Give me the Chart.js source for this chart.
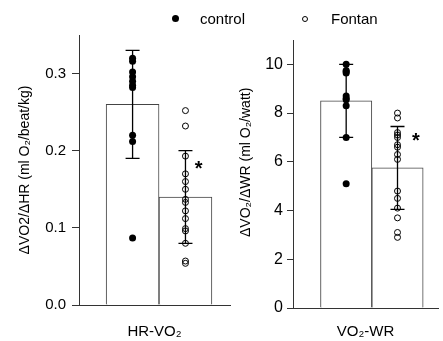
<!DOCTYPE html>
<html>
<head>
<meta charset="utf-8">
<script src="https://cdn.jsdelivr.net/npm/chart.js@4.4.1/dist/chart.umd.min.js"></script>
<style>
  body { margin: 0; background: #fff; }
  #wrap { position: relative; width: 443px; height: 341px; overflow: hidden;
          font-family: 'Liberation Sans', Arial, sans-serif; }
  canvas { position: absolute; top: 0; }
  .leg { position: absolute; top: 10px; font-size: 15px; line-height: 18px; color: #000; }
  .dot { position: absolute; border-radius: 50%; box-sizing: border-box; }
</style>
</head>
<body>
<div id="wrap">
  <canvas id="hrChart" width="240" height="341" style="left:0"></canvas>
  <canvas id="wrChart" width="223" height="341" style="left:220px"></canvas>
  <div class="dot" style="left:172px;top:15px;width:7px;height:7px;background:#000"></div>
  <div class="leg" style="left:200px">control</div>
  <div class="dot" style="left:302px;top:16px;width:6px;height:6px;border:1px solid #000"></div>
  <div class="leg" style="left:331px">Fontan</div>
</div>
<script>
Chart.defaults.font.family = "'Liberation Sans', Arial, sans-serif";
Chart.defaults.color = '#000';

// groups: control at x=1, Fontan at x=2
const groups = ['control', 'Fontan'];

// left panel: HR-VO2
const hrLabel = 'HR-VO₂';
const hrMeans = [0.26, 0.14];
const hrSD = [0.07, 0.06];
const hrControl = [0.320, 0.316, 0.302, 0.296, 0.290, 0.285, 0.282, 0.220, 0.212, 0.087];
const hrFontan = [0.252, 0.232, 0.193, 0.170, 0.160, 0.150, 0.137, 0.133, 0.122, 0.112, 0.099, 0.096, 0.080, 0.057, 0.054];
const hrTicks = [0.0, 0.1, 0.2, 0.3];

// right panel: VO2-WR
const wrLabel = 'VO₂-WR';
const wrMeans = [8.5, 5.75];
const wrSD = [1.5, 1.7];
const wrControl = [10.0, 9.75, 9.7, 9.65, 8.7, 8.6, 8.55, 8.3, 7.0, 5.1];
const wrFontan = [8.0, 7.8, 7.2, 7.1, 7.0, 6.7, 6.6, 6.3, 6.1, 4.8, 4.5, 4.1, 3.7, 3.1, 2.9];
const wrTicks = [0, 2, 4, 6, 8, 10];

const errorBars = {
  id: 'errorBars',
  afterDatasetsDraw(chart, args, opts) {
    const { ctx, scales: { x, y } } = chart;
    ctx.save();
    ctx.strokeStyle = '#000';
    ctx.lineWidth = 1.3;
    opts.means.forEach((m, i) => {
      const px = x.getPixelForValue(i + 1);
      const top = y.getPixelForValue(m + opts.sd[i]);
      const bot = y.getPixelForValue(m - opts.sd[i]);
      ctx.beginPath();
      ctx.moveTo(px, top); ctx.lineTo(px, bot);
      ctx.moveTo(px - 7, top); ctx.lineTo(px + 7, top);
      ctx.moveTo(px - 7, bot); ctx.lineTo(px + 7, bot);
      ctx.stroke();
    });
    // significance mark
    ctx.fillStyle = '#000';
    ctx.font = "bold 20px 'Liberation Sans', Arial, sans-serif";
    ctx.textAlign = 'center';
    ctx.textBaseline = 'middle';
    ctx.fillText('*', x.getPixelForValue(opts.star[0]), y.getPixelForValue(opts.star[1]));
    ctx.restore();
  }
};

function makePanel(id, p) {
  return new Chart(document.getElementById(id), {
    type: 'bar',
    data: {
      datasets: [
        {
          type: 'scatter',
          label: groups[0],
          data: p.control.map(v => ({ x: 1, y: v })),
          pointStyle: 'circle',
          pointRadius: 3.5,
          backgroundColor: '#000',
          borderColor: '#000',
          borderWidth: 0
        },
        {
          type: 'scatter',
          label: groups[1],
          data: p.fontan.map(v => ({ x: 2, y: v })),
          pointStyle: 'circle',
          pointRadius: 3,
          backgroundColor: 'rgba(0,0,0,0)',
          borderColor: '#000',
          borderWidth: 1
        },
        {
          label: 'mean',
          data: p.means.map((m, i) => ({ x: i + 1, y: m })),
          backgroundColor: '#fff',
          borderColor: '#444',
          borderWidth: 1,
          barPercentage: 1,
          categoryPercentage: 1
        }
      ]
    },
    options: {
      responsive: false,
      animation: false,
      devicePixelRatio: 1,
      layout: { padding: p.pad },
      plugins: {
        legend: { display: false },
        tooltip: { enabled: false },
        errorBars: { means: p.means, sd: p.sd, star: p.star }
      },
      scales: {
        x: {
          type: 'linear',
          min: p.xMin, max: p.xMax,
          offset: false,
          grid: { display: false, offset: false },
          border: { display: true, color: '#333', width: 1 },
          ticks: { display: false },
          title: { display: true, text: p.label, font: { size: 15 }, padding: { top: 0, bottom: 0 } },
          afterFit: s => { s.height = p.xHeight; }
        },
        y: {
          min: 0, max: p.yMax,
          grid: { drawOnChartArea: false, drawTicks: true, tickLength: p.tickLen, color: '#333' },
          border: { display: true, color: '#333', width: 1 },
          afterBuildTicks: s => { s.ticks = p.ticks.map(v => ({ value: v })); },
          ticks: { font: { size: p.tickSize }, padding: p.tickPad, callback: v => p.fmt(v) },
          title: { display: true, text: p.yTitle, font: { size: 14 }, padding: { top: p.titlePad, bottom: 0 } },
          afterFit: s => { s.width = p.yWidth; }
        }
      }
    },
    plugins: [errorBars]
  });
}

makePanel('hrChart', {
  label: hrLabel, means: hrMeans, sd: hrSD, control: hrControl, fontan: hrFontan, ticks: hrTicks,
  yTitle: 'ΔVO2/ΔHR (ml O₂/beat/kg)', yMax: 0.35, fmt: v => v.toFixed(1),
  xMin: -0.013, xMax: 2.842, star: [2.25, 0.176],
  pad: { top: 35, right: 10, bottom: 0, left: 0 },
  xHeight: 36, yWidth: 79, tickLen: 7, tickPad: 6, titlePad: 17, tickSize: 15
});

makePanel('wrChart', {
  label: wrLabel, means: wrMeans, sd: wrSD, control: wrControl, fontan: wrFontan, ticks: wrTicks,
  yTitle: '\u00a0\u00a0\u00a0\u00a0\u00a0\u00a0ΔVO₂/ΔWR (ml O₂/watt)', yMax: 11, fmt: v => String(v),
  xMin: -0.036, xMax: 2.789, star: [2.36, 6.85],
  pad: { top: 40, right: 0, bottom: 0, left: 0 },
  xHeight: 33, yWidth: 73, tickLen: 6, tickPad: 4, titlePad: 17.5, tickSize: 16
});
</script>
</body>
</html>
